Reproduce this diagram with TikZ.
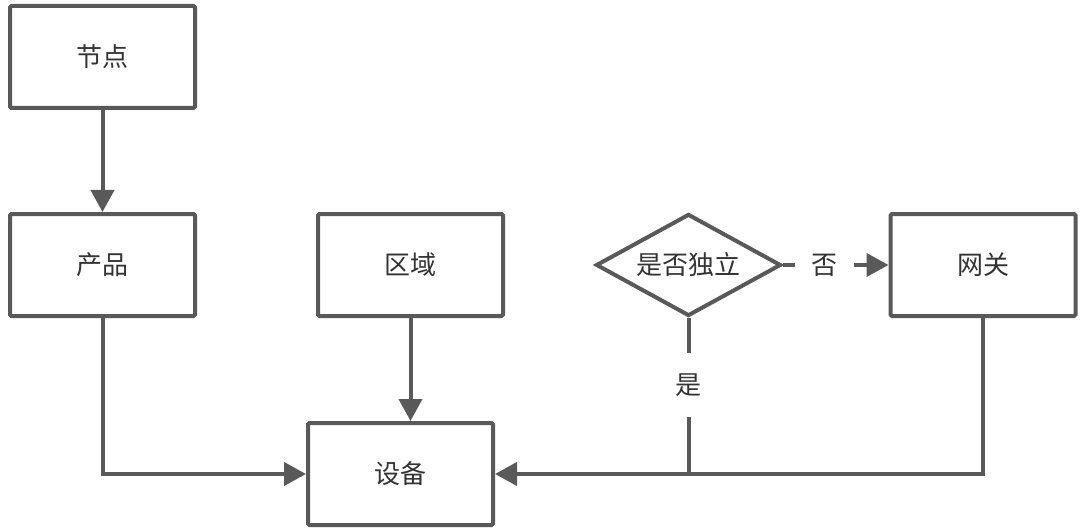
\documentclass[tikz,border=0pt]{standalone}
\usepackage{fontspec}
\newfontfamily\cjk{Noto Sans CJK SC}
\usetikzlibrary{shapes.geometric,arrows.meta}
\definecolor{ln}{HTML}{595959}
\definecolor{tx}{HTML}{333333}
\begin{document}
\begin{tikzpicture}[x=1pt,y=1pt,
  font=\cjk\fontsize{26}{30}\selectfont, text=tx,
  box/.style={draw=ln, line width=4pt, rectangle, rounded corners=1.5pt, minimum width=185pt, minimum height=102pt, inner sep=0pt, fill=white},
  dia/.style={draw=ln, line width=4pt, diamond, aspect=1.8, minimum width=185pt, minimum height=102pt, inner sep=0pt},
  arr/.style={draw=ln, line width=4pt, -{Triangle[length=22pt,width=23pt]}},
  con/.style={draw=ln, line width=4pt},
  vlab/.style={fill=white, inner sep=0pt, minimum height=64pt, minimum width=30pt},
  hlab/.style={fill=white, inner sep=0pt, minimum width=59pt, minimum height=30pt}]
\useasboundingbox (0,0) rectangle (1085,-532);
\node[box] (n1) at (102.5,-57) {节点};
\node[box] (p) at (102.5,-265) {产品};
\node[box] (r) at (410.5,-265) {区域};
\node[box] (g) at (983,-265) {网关};
\node[box] (d) at (400.5,-474) {设备};
\node[dia] (j) at (688.5,-265) {是否独立};
\draw[arr] (n1) -- (p);
\draw[arr] (r.south) -- (r.south |- d.north);
\draw[arr] (p.south) |- (d.west);
\draw[arr] (g.south) |- (d.east);
\draw[con] (j.south) -- node[vlab, pos=0.43] {是} (j.south |- d.east);
\draw[arr] (j.east) -- node[hlab, pos=0.39] {否} (g.west);
\end{tikzpicture}
\end{document}
